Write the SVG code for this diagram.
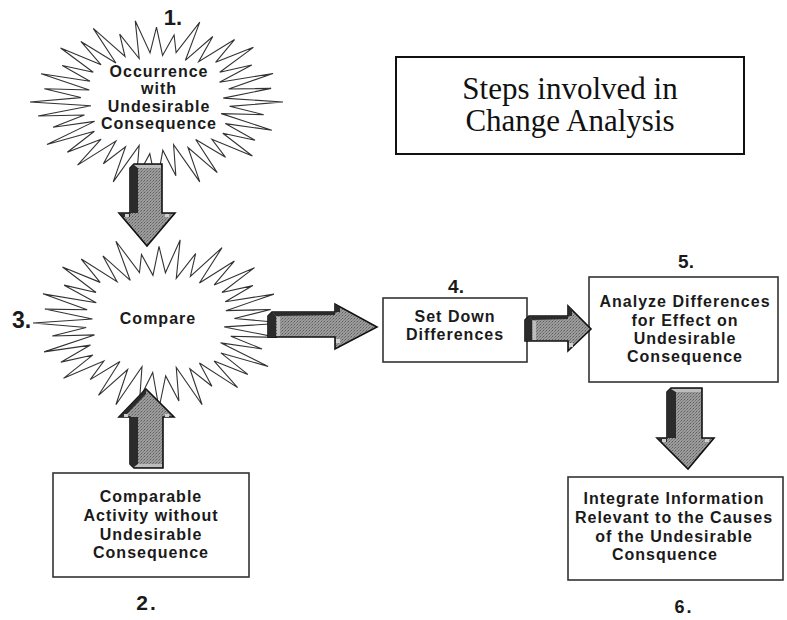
<svg xmlns="http://www.w3.org/2000/svg" width="787" height="620" viewBox="0 0 787 620">
  <style>
    .burst { fill: #ffffff; stroke: #333333; stroke-width: 1.1; stroke-linejoin: miter; }
    .box { fill: #ffffff; stroke: #333333; stroke-width: 1.6; }
    .lbl { font-family: "Liberation Sans", Arial, sans-serif; font-weight: bold; font-size: 16px; letter-spacing: 1px; text-anchor: middle; fill: #1a1a1a; }
    .num { font-family: "Liberation Sans", Arial, sans-serif; font-weight: bold; fill: #1a1a1a; }
    .title { font-family: "Liberation Serif", "Times New Roman", serif; font-size: 31px; text-anchor: middle; fill: #111111; }
    .arrow { fill: url(#stipple); stroke: #111111; stroke-width: 1.6; stroke-linejoin: miter; }
    .side { fill: #2b2b2b; }
    .bevel { fill: #bdbdbd; }
  </style>
  <defs>
    <!-- halftone grey used on the block arrows -->
    <pattern id="stipple" width="3" height="3" patternUnits="userSpaceOnUse">
      <rect width="3" height="3" fill="#9c9c9c"/>
      <rect width="1" height="1" fill="#5e5e5e"/>
      <rect x="2" y="1" width="1" height="1" fill="#777777"/>
      <rect x="1" y="2" width="1" height="1" fill="#838383"/>
    </pattern>
    <!-- spiky starburst outline on a radius-100 grid -->
    <polygon id="burst" class="burst" vector-effect="non-scaling-stroke"
      points="100,0 57.8,5.1 84.7,14.9 51.2,13.7 91.2,33.2 54.4,25.4 77.9,45 52.4,36.7 75.8,63.6 43.8,43.8 54.6,65.1 31,44.2 48,83.1 24.9,53.5 34.2,94 13.5,50.2 15.3,86.7 5,56.8 0,98 -5.3,60.8 -15.8,89.6 -13.7,51.2 -34.2,94 -24.5,52.6 -42,72.7 -32.1,45.9 -62.4,74.3 -43.8,43.8 -70.5,59.1 -49.1,34.4 -86.6,50 -48.9,22.8 -81.8,29.8 -57,15.3 -93.6,16.5 -51.8,4.5 -100,0 -59.8,-5.2 -88.6,-15.6 -53.1,-14.2 -91.2,-33.2 -52.6,-24.5 -74.5,-43 -50,-35 -75.8,-63.6 -43.8,-43.8 -59.8,-71.2 -32.1,-45.9 -50,-86.6 -24.9,-53.5 -29.1,-79.9 -13.7,-51.2 -16.8,-95.5 -5.1,-57.8 0,-88 4.8,-54.8 13.9,-78.8 15.5,-58 34.2,-94 22.8,-48.9 44.5,-77.1 33.3,-47.5 61.7,-73.5 46.7,-46.7 76.6,-64.3 50,-35 75.3,-43.5 49.8,-23.2 92.1,-33.5 57,-15.3 90.6,-16 52.8,-4.6"/>
  </defs>

  <rect width="787" height="620" fill="#ffffff"/>

  <!-- title -->
  <g id="title">
    <rect x="396" y="57" width="348" height="97" fill="#ffffff" stroke="#111111" stroke-width="2"/>
    <text class="title" x="570" y="99">Steps involved in</text>
    <text class="title" x="570" y="131">Change Analysis</text>
  </g>

  <!-- 1. occurrence -->
  <g id="node-1">
    <use href="#burst" transform="translate(156.5,102) scale(1.265,0.85)"/>
    <text class="num" x="173" y="25" font-size="22" text-anchor="middle">1.</text>
    <text class="lbl" x="159" y="77">Occurrence</text>
    <text class="lbl" x="159" y="94">with</text>
    <text class="lbl" x="159" y="112">Undesirable</text>
    <text class="lbl" x="159" y="129">Consequence</text>
  </g>

  <!-- 3. compare -->
  <g id="node-3">
    <use href="#burst" transform="translate(159,323) scale(-1.26,0.87)"/>
    <text class="num" x="12" y="328" font-size="23">3.</text>
    <text class="lbl" x="158" y="324">Compare</text>
  </g>

  <!-- 2. comparable activity -->
  <g id="node-2">
    <rect class="box" x="53" y="473" width="196" height="104"/>
    <text class="lbl" x="151" y="502">Comparable</text>
    <text class="lbl" x="151" y="521">Activity without</text>
    <text class="lbl" x="151" y="540">Undesirable</text>
    <text class="lbl" x="151" y="558">Consequence</text>
    <text class="num" x="147" y="610" font-size="21" text-anchor="middle" letter-spacing="2">2.</text>
  </g>

  <!-- 4. set down differences -->
  <g id="node-4">
    <rect class="box" x="383" y="298" width="144" height="64"/>
    <text class="num" x="456" y="293" font-size="19" text-anchor="middle">4.</text>
    <text class="lbl" x="455" y="322">Set Down</text>
    <text class="lbl" x="455" y="340">Differences</text>
  </g>

  <!-- 5. analyze differences -->
  <g id="node-5">
    <rect class="box" x="589" y="277" width="189" height="105"/>
    <text class="num" x="686" y="268" font-size="19" text-anchor="middle">5.</text>
    <text class="lbl" x="685" y="307">Analyze Differences</text>
    <text class="lbl" x="685" y="326">for Effect on</text>
    <text class="lbl" x="685" y="344">Undesirable</text>
    <text class="lbl" x="685" y="362">Consequence</text>
  </g>

  <!-- 6. integrate information -->
  <g id="node-6">
    <rect class="box" x="568" y="477" width="215" height="103"/>
    <text class="lbl" x="674" y="504">Integrate Information</text>
    <text class="lbl" x="674" y="523">Relevant to the Causes</text>
    <text class="lbl" x="674" y="542">of the Undesirable</text>
    <text class="lbl" x="665" y="560">Consquence</text>
    <text class="num" x="684" y="613" font-size="18" text-anchor="middle" letter-spacing="2">6.</text>
  </g>

  <!-- block arrows -->
  <g id="connectors">
    <!-- 1 down to 3 -->
    <g>
      <polygon class="arrow" points="130,168 134,164 162,164 162,213 175,213 147,246 119,213 130,213"/>
      <polygon class="side" points="130,168 134,164 138,168 138,213 130,213"/>
      <polygon class="bevel" points="134,165 161,165 161,168 138,168"/>
      <polygon class="side" points="119,213 130,213 130,217 123,217"/>
      <rect x="125" y="214" width="4" height="3" fill="#d0d0d0"/>
      <rect x="165" y="214" width="4" height="3" fill="#d0d0d0"/>
    </g>
    <!-- 2 up to 3 -->
    <g>
      <polygon class="arrow" points="146,389 174,417 163,417 163,468 134,468 130,464 130,417 119,417"/>
      <polygon class="side" points="119,417 146,389 146,394 125,416"/>
      <polygon class="side" points="130,417 138,417 138,464 134,468 130,464"/>
      <polygon class="bevel" points="138,464 162,464 162,467 134,467"/>
      <rect x="124" y="414" width="4" height="3" fill="#d0d0d0"/>
      <rect x="165" y="414" width="4" height="3" fill="#d0d0d0"/>
    </g>
    <!-- 3 right to 4 -->
    <g>
      <polygon class="arrow" points="268,316 272,312 335,312 335,304 377,327 335,349 335,337 268,337"/>
      <polygon class="side" points="268,316 272,312 276,316 276,337 268,337"/>
      <polygon class="side" points="272,312 335,312 335,315 276,316"/>
      <polygon class="bevel" points="277,317 280,317 280,336 277,336"/>
      <polygon class="side" points="335,304 340,307 340,312 335,312"/>
      <rect x="336" y="339" width="4" height="4" fill="#d0d0d0"/>
    </g>
    <!-- 4 right to 5 -->
    <g>
      <polygon class="arrow" points="525,320 529,316 568,316 568,306 591,329 568,351 568,341 525,341"/>
      <polygon class="side" points="525,320 529,316 532,320 532,341 525,341"/>
      <polygon class="side" points="529,316 568,316 568,319 532,320"/>
      <polygon class="bevel" points="533,321 536,321 536,340 533,340"/>
      <polygon class="side" points="568,306 572,309 572,316 568,316"/>
      <rect x="569" y="343" width="4" height="4" fill="#d0d0d0"/>
    </g>
    <!-- 5 down to 6 -->
    <g>
      <polygon class="arrow" points="667,392 671,388 702,388 702,438 714,438 688,469 657,438 667,438"/>
      <polygon class="side" points="667,392 671,388 676,392 676,438 667,438"/>
      <polygon class="bevel" points="671,389 701,389 701,392 676,392"/>
      <polygon class="side" points="657,438 667,438 667,442 661,442"/>
      <rect x="662" y="439" width="4" height="3" fill="#d0d0d0"/>
      <rect x="705" y="439" width="4" height="3" fill="#d0d0d0"/>
    </g>
  </g>
</svg>
